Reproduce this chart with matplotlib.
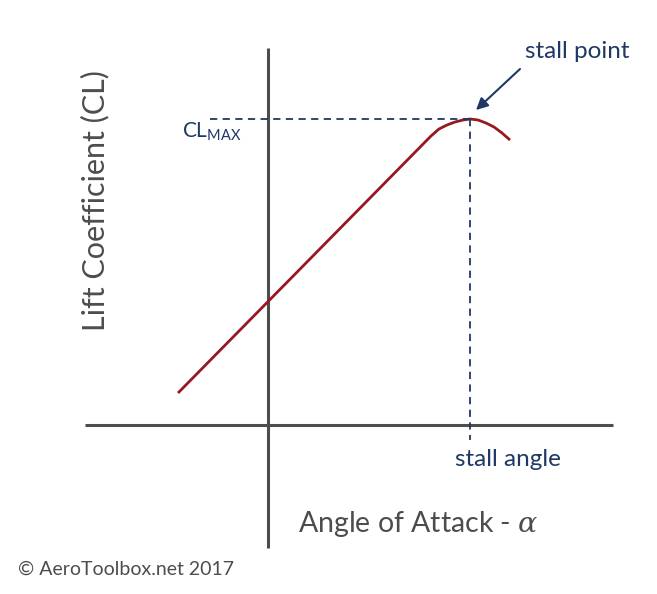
import matplotlib
matplotlib.use("Agg")
import matplotlib.pyplot as plt

plt.rcParams['font.family'] = ['Lato', 'DejaVu Sans']
plt.rcParams['mathtext.fontset'] = 'dejavuserif'

# lift curve (arbitrary units, origin at the axes crossing)
alpha = [-90, 163, 171, 179, 187, 195, 202, 210, 218, 226, 234, 242]
cl = [32, 289, 296, 300, 303, 305, 306, 305, 302, 298, 292, 285]

stall_alpha = 202
cl_max = 306

navy = '#1f3864'
grey = '#4d4d4d'
red = '#96191f'

fig = plt.figure(figsize=(6.57, 5.94), dpi=100)
ax = fig.add_axes([0, 0, 1, 1])
ax.set_xlim(-268, 389)
ax.set_ylim(-169, 425)
ax.axis('off')

# axes lines
ax.plot([-183, 345], [0, 0], color=grey, lw=2.2, solid_capstyle='butt')
ax.plot([0, 0], [-123, 377], color=grey, lw=2.2, solid_capstyle='butt')

# lift curve
ax.plot(alpha, cl, color=red, lw=2.0, solid_capstyle='butt')

# CLmax / stall angle guides
ax.plot([-58, stall_alpha], [cl_max, cl_max], color=navy, lw=1.3, ls=(0, (4, 3)))
ax.plot([stall_alpha, stall_alpha], [cl_max, -15], color=navy, lw=1.3, ls=(0, (4, 3)))

ax.text(-86, 293, r"CL$_{\mathregular{MAX}}$", color=navy, fontsize=15,
        ha='left', va='center')
ax.text(240, -34, "stall angle", color=navy, fontsize=17.5, ha='center', va='center')
ax.text(309, 373, "stall point", color=navy, fontsize=17.5, ha='center', va='center')
ax.annotate("", xy=(stall_alpha + 6, cl_max + 9), xytext=(252, 356),
            arrowprops=dict(arrowstyle='-|>,head_length=0.7,head_width=0.35',
                            color=navy, lw=1.5, shrinkA=0, shrinkB=0))

ax.text(-173, 224, "Lift Coefficient (CL)", color=grey, fontsize=22,
        rotation=90, ha='center', va='center')
ax.text(30, -99, r"Angle of Attack - $\alpha$", color=grey, fontsize=20.5,
        ha='left', va='center')
ax.text(-250, -144, "\u00a9 AeroToolbox.net 2017", color=grey, fontsize=14,
        ha='left', va='center')

fig.savefig("out.png", dpi=100, facecolor='white')
